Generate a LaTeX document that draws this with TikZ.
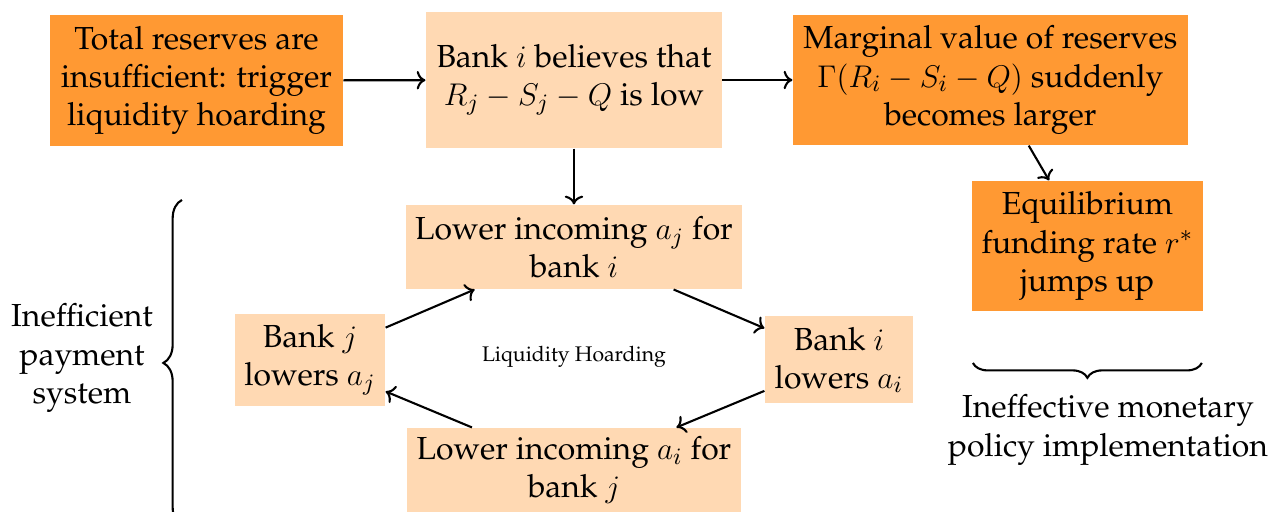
\documentclass[tikz,border=0pt,12pt]{standalone}
\usepackage[T1]{fontenc}
\usepackage{palatino}
\usepackage{xcolor}
\usepackage{tikz}
\usetikzlibrary{arrows.meta,decorations.pathreplacing}
\definecolor{hoardorange}{RGB}{255,153,51}
\definecolor{paleorange}{RGB}{255,217,179}

\begin{document}
\begin{tikzpicture}[
  box/.style={align=center,inner sep=2pt,font=\fontsize{12.2}{14.6}\selectfont},
  dark/.style={box,fill=hoardorange},
  pale/.style={box,fill=paleorange},
  flow/.style={->,thick},
  brc/.style={decorate,decoration={brace,amplitude=#1},thick},
  note/.style={align=center,font=\fontsize{12.2}{14.6}\selectfont},
  tag/.style={font=\fontsize{8.1}{9.5}\selectfont}
]
\useasboundingbox (0,0) rectangle (17.12,-6.885);

\node[dark,minimum width=3.94cm,minimum height=1.76cm] (tot) at (2.642,-1.082)
  {Total reserves are\\insufficient: trigger\\liquidity hoarding};
\node[pale,minimum width=3.98cm,minimum height=1.83cm] (bel) at (7.719,-1.076)
  {Bank $i$ believes that\\$R_j-S_j-Q$ is low};
\node[dark,minimum width=5.31cm,minimum height=1.75cm] (marg) at (13.319,-1.076)
  {Marginal value of reserves\\$\Gamma(R_i-S_i-Q)$ suddenly\\becomes larger};
\node[dark,minimum width=3.11cm,minimum height=1.75cm] (equi) at (14.624,-3.308)
  {Equilibrium\\funding rate $r^*$\\jumps up};

\node[pale,minimum width=4.52cm,minimum height=1.13cm] (lowj) at (7.719,-3.321)
  {Lower incoming $a_j$ for\\bank $i$};
\node[pale,minimum width=1.99cm,minimum height=1.17cm] (banki) at (11.282,-4.841)
  {Bank $i$\\lowers $a_i$};
\node[pale,minimum width=4.49cm,minimum height=1.13cm] (lowi) at (7.719,-6.320)
  {Lower incoming $a_i$ for\\bank $j$};
\node[pale,minimum width=2.02cm,minimum height=1.24cm] (bankj) at (4.169,-4.841)
  {Bank $j$\\lowers $a_j$};
\node[tag] (hoard) at (7.719,-4.801) {Liquidity Hoarding};

\draw[flow] (tot) -- (bel);
\draw[flow] (bel) -- (marg);
\draw[flow] (marg) -- (equi);
\draw[flow] (bel) -- (lowj);
\draw[flow] (lowj) -- (banki);
\draw[flow] (banki) -- (lowi);
\draw[flow] (lowi) -- (bankj);
\draw[flow] (bankj) -- (lowj);

\coordinate (pb) at (2.447,-7.073);
\coordinate (pt) at (2.447,-2.689);
\draw[brc=0.25cm] (pb) -- (pt);
\node[note] (pay) at (1.103,-4.814) {Inefficient\\payment\\system};

\coordinate (mr) at (16.163,-4.881);
\coordinate (ml) at (13.084,-4.881);
\draw[brc=0.2cm] (mr) -- (ml);
\node[note] (mon) at (14.90,-5.782) {Ineffective monetary\\policy implementation};
\end{tikzpicture}
\end{document}
